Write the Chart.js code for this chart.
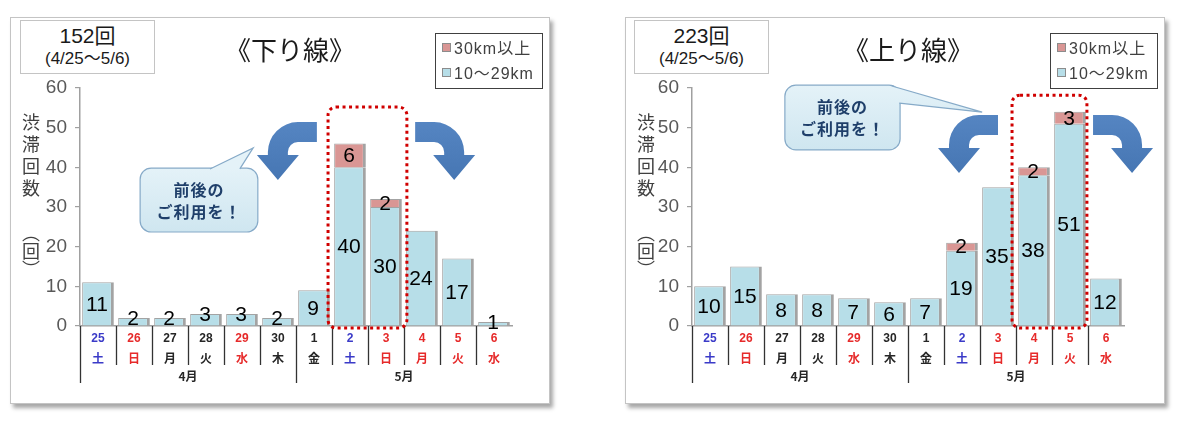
<!DOCTYPE html>
<html lang="ja">
<head>
<meta charset="utf-8">
<script src="https://cdn.jsdelivr.net/npm/chart.js@4.4.1/dist/chart.umd.min.js"></script>
<style>
  body { margin: 0; width: 1190px; height: 427px; background: #fff; position: relative; overflow: hidden;
         font-family: "Noto Sans CJK JP", sans-serif; }
  .panel { position: absolute; top: 17px; width: 540px; height: 387px; box-sizing: border-box;
           border: 1px solid #c4c4c4; background: #fff; box-shadow: 3px 4px 4px rgba(0,0,0,0.35); }
  .panel canvas { position: absolute; left: 0; top: 0; }
  .total { position: absolute; top: 2px; width: 135px; height: 54px; box-sizing: border-box;
           border: 1px solid #c4c4c4; text-align: center; color: #1a1a1a; background: #fff; }
  .total .n { font: 21px "Liberation Sans", "Noto Sans CJK JP", sans-serif; line-height: 22px; margin-top: 4px; }
  .total .p { font: 17px "Liberation Sans", "Noto Sans CJK JP", sans-serif; line-height: 20px; margin-top: 2px; }
  .title { position: absolute; top: 14px; width: 200px; text-align: center; font-size: 26px; line-height: 34px; color: #1a1a1a; }
  .legend { position: absolute; left: 424px; top: 15px; width: 108px; height: 56px; box-sizing: border-box;
            border: 1.5px solid #404040; background: #fff; padding: 3px 0 0 6px; }
  .legend .row { font: 16px "Liberation Sans", "Noto Sans CJK JP", sans-serif; letter-spacing: 1px; color: #404040;
                 line-height: 24px; height: 25px; white-space: nowrap; }
  .legend .sw { display: inline-block; width: 7px; height: 7px; margin-right: 3px; vertical-align: 2px;
                border: 1px solid #8c8c8c; }
  .ytitle { position: absolute; writing-mode: vertical-rl; font-size: 18px; color: #404040; }
</style>
</head>
<body>
<div class="panel" id="pDown" style="left:10px">
  <canvas id="cDown" width="538" height="385"></canvas>
  <div class="total" style="left:9px"><div class="n" id="tDown"></div><div class="p" id="rDown"></div></div>
  <div class="title" style="left:179px">《下り線》</div>
  <div class="legend" id="lDown"></div>
  <div class="ytitle" style="left:7px; top:95px; letter-spacing:4px">渋滞回数</div>
  <div class="ytitle" style="left:7px; top:206px">（回）</div>
</div>
<div class="panel" id="pUp" style="left:625px">
  <canvas id="cUp" width="538" height="385"></canvas>
  <div class="total" style="left:8px"><div class="n" id="tUp"></div><div class="p" id="rUp"></div></div>
  <div class="title" style="left:182px">《上り線》</div>
  <div class="legend" id="lUp"></div>
  <div class="ytitle" style="left:7px; top:95px; letter-spacing:4px">渋滞回数</div>
  <div class="ytitle" style="left:7px; top:206px">（回）</div>
</div>
<script>
// calendar
const days = ['25', '26', '27', '28', '29', '30', '1', '2', '3', '4', '5', '6'];
const weekdays = ['土', '日', '月', '火', '水', '木', '金', '土', '日', '月', '火', '水'];
const dayTypes = ['sat', 'sun', '', '', 'hol', '', '', 'sat', 'sun', 'hol', 'hol', 'hol'];
const monthLabels = ['4月', '5月'];
const monthStart = [0, 6];
const period = '(4/25～5/6)';

// series
const seriesNames = ['10～29km', '30km以上'];
const downShort = [11, 2, 2, 3, 3, 2, 9, 40, 30, 24, 17, 1];
const downLong = [0, 0, 0, 0, 0, 0, 0, 6, 2, 0, 0, 0];
const upShort = [10, 15, 8, 8, 7, 6, 7, 19, 35, 38, 51, 12];
const upLong = [0, 0, 0, 0, 0, 0, 0, 2, 0, 2, 3, 0];
const yMax = 60, yStep = 10;

const blueFill = '#b7dee8';
const redFill = '#d99694';
const barEdge = '#a3a3a3';
const dayColor = { sat: '#3b3bc8', sun: '#e62a2a', hol: '#e62a2a', '': '#262626' };

function sum(a) { return a.reduce((s, v) => s + v, 0); }

const decorPlugin = {
  id: 'decor',
  afterDatasetsDraw(chart) {
    const ctx = chart.ctx;
    ctx.save();
    ctx.font = '21px "Liberation Sans", sans-serif';
    ctx.fillStyle = '#000';
    ctx.textAlign = 'center';
    ctx.textBaseline = 'middle';
    chart.data.datasets.forEach((ds, di) => {
      const meta = chart.getDatasetMeta(di);
      ds.data.forEach((v, i) => {
        if (!v) return;
        const bar = meta.data[i];
        const h = bar.base - bar.y;
        let cy = (bar.y + bar.base) / 2;
        if (di === 0 && h < 18) cy = bar.y;   // tiny bars: label sits on the top edge
        ctx.fillText(String(v), bar.x - 1, cy + 1);
      });
    });
    ctx.restore();
  },
  afterDraw(chart, args, o) {
    const ctx = chart.ctx;
    const xs = chart.scales.x, ys = chart.scales.y;
    const X = v => xs.getPixelForValue(v), Y = v => ys.getPixelForValue(v);
    const b = chart.chartArea.bottom;
    ctx.save();

    // category labels under the axis
    ctx.textAlign = 'center';
    ctx.textBaseline = 'middle';
    days.forEach((d, i) => {
      ctx.fillStyle = dayColor[dayTypes[i]];
      ctx.font = 'bold 12px "Liberation Sans", sans-serif';
      ctx.fillText(d, X(i), b + 13);
      ctx.font = 'bold 12px "Noto Sans CJK JP", sans-serif';
      ctx.fillText(weekdays[i], X(i), b + 32);
    });
    ctx.strokeStyle = '#333';
    ctx.lineWidth = 1.3;
    days.forEach((d, i) => {
      const x = Math.round(X(i - 0.5)) + 0.5;
      const long = monthStart.includes(i);
      ctx.beginPath();
      ctx.moveTo(x, b);
      ctx.lineTo(x, b + (long ? 57 : 39));
      ctx.stroke();
    });
    ctx.fillStyle = '#262626';
    ctx.font = 'bold 12px "Noto Sans CJK JP", sans-serif';
    monthLabels.forEach((m, k) => {
      const from = monthStart[k];
      const to = k + 1 < monthStart.length ? monthStart[k + 1] - 1 : days.length - 1;
      ctx.fillText(m, (X(from - 0.5) + X(to + 0.5)) / 2, b + 50);
    });

    // dotted highlight
    const hb = o.highlight;
    ctx.strokeStyle = '#d00000';
    ctx.lineWidth = 3;
    ctx.setLineDash([3, 3.5]);
    ctx.beginPath();
    ctx.roundRect(X(hb[0]), Y(hb[2]), X(hb[1]) - X(hb[0]), Y(-0.5) - Y(hb[2]), 8);
    ctx.stroke();
    ctx.setLineDash([]);

    // curved arrows
    const drawArrow = (ex, top, mirror) => {
      ctx.save();
      ctx.translate(ex, top);
      if (mirror) ctx.scale(-1, 1);
      ctx.beginPath();
      ctx.moveTo(0, 0);
      ctx.lineTo(-19, 0);
      ctx.arc(-19, 30, 30, -Math.PI / 2, Math.PI, true);
      ctx.lineTo(-49, 33);
      ctx.lineTo(-60, 33);
      ctx.lineTo(-39, 58);
      ctx.lineTo(-18, 33);
      ctx.lineTo(-29, 33);
      ctx.lineTo(-29, 30);
      ctx.arc(-19, 30, 10, Math.PI, -Math.PI / 2, false);
      ctx.lineTo(0, 20);
      ctx.closePath();
      const g = ctx.createLinearGradient(0, 0, 0, 58);
      g.addColorStop(0, '#5585c2');
      g.addColorStop(1, '#4676b3');
      ctx.fillStyle = g;
      ctx.fill();
      ctx.restore();
    };
    drawArrow(X(o.arrows[0]), Y(o.arrows[2]), false);
    drawArrow(X(o.arrows[1]), Y(o.arrows[2]), true);

    // callout bubble
    const c = o.callout;
    const x0 = X(c.box[0]), x1 = X(c.box[1]), y0 = Y(c.box[2]), y1 = Y(c.box[3]);
    const g = ctx.createLinearGradient(0, y0, 0, y1);
    g.addColorStop(0, '#e4f2f8');
    g.addColorStop(1, '#cfe6f0');
    ctx.fillStyle = g;
    ctx.strokeStyle = '#86aac8';
    ctx.lineWidth = 1.2;
    ctx.beginPath();
    ctx.roundRect(x0, y0, x1 - x0, y1 - y0, 11);
    ctx.fill();
    ctx.stroke();
    const p = c.wedge.map(q => [X(q[0]), Y(q[1])]);
    ctx.beginPath();
    ctx.moveTo(p[0][0], p[0][1]);
    ctx.lineTo(p[1][0], p[1][1]);
    ctx.lineTo(p[2][0], p[2][1]);
    ctx.closePath();
    ctx.fill();
    ctx.beginPath();
    ctx.moveTo(p[0][0], p[0][1]);
    ctx.lineTo(p[1][0], p[1][1]);
    ctx.lineTo(p[2][0], p[2][1]);
    ctx.stroke();
    ctx.fillStyle = '#1f3f6a';
    ctx.font = 'bold 16px "Noto Sans CJK JP", sans-serif';
    ctx.letterSpacing = '1px';
    ctx.fillText('前後の', (x0 + x1) / 2, y0 + 22);
    ctx.fillText('ご利用を！', (x0 + x1) / 2, y0 + 44);
    ctx.restore();
  }
};

function makeChart(id, shortData, longData, deco) {
  const canvas = document.getElementById(id);
  const W = canvas.width, H = canvas.height;
  const edge = { left: 1, top: 1, right: 3, bottom: 0 };
  return new Chart(canvas, {
    type: 'bar',
    data: {
      labels: days,
      datasets: [
        { label: seriesNames[0], data: shortData, backgroundColor: blueFill, borderColor: barEdge,
          borderWidth: edge, barPercentage: 0.88, categoryPercentage: 1 },
        { label: seriesNames[1], data: longData, backgroundColor: redFill, borderColor: barEdge,
          borderWidth: edge, barPercentage: 0.88, categoryPercentage: 1 }
      ]
    },
    options: {
      responsive: false,
      animation: false,
      events: [],
      layout: { padding: { top: 70, right: W - deco.plotRight, left: 0, bottom: 0 } },
      plugins: { legend: { display: false }, tooltip: { enabled: false }, decor: deco },
      scales: {
        x: {
          stacked: true,
          grid: { display: true, drawOnChartArea: false, drawTicks: false },
          ticks: { display: false },
          border: { color: '#a0a0a0', width: 1.5 },
          afterFit: s => { s.height = H - 308; }
        },
        y: {
          stacked: true, min: 0, max: yMax,
          ticks: { stepSize: yStep, color: '#595959', padding: 8,
                   font: { family: '"Liberation Sans", sans-serif', size: 19 } },
          grid: { drawOnChartArea: false, tickLength: 5, color: '#a0a0a0', lineWidth: 1.2 },
          border: { color: '#a0a0a0', width: 1.5 },
          afterFit: s => { s.width = deco.plotLeft; }
        }
      }
    },
    plugins: [decorPlugin]
  });
}

function fillBoxes(suffix, shortData, longData) {
  document.getElementById('t' + suffix).textContent = (sum(shortData) + sum(longData)) + '回';
  document.getElementById('r' + suffix).textContent = period;
  const lg = document.getElementById('l' + suffix);
  [[seriesNames[1], redFill], [seriesNames[0], blueFill]].forEach(([name, col]) => {
    const row = document.createElement('div');
    row.className = 'row';
    const sw = document.createElement('span');
    sw.className = 'sw';
    sw.style.background = col;
    row.appendChild(sw);
    row.appendChild(document.createTextNode(name));
    lg.appendChild(row);
  });
}

fillBoxes('Down', downShort, downLong);
fillBoxes('Up', upShort, upLong);

makeChart('cDown', downShort, downLong, {
  plotLeft: 69, plotRight: 501,
  highlight: [6.39, 8.58, 55.2],
  arrows: [6.08, 8.81, 51.4],
  callout: { box: [1.17, 4.44, 39.8, 23.7], wedge: [[3.11, 39.6], [4.31, 44.9], [3.94, 39.6]] }
});
makeChart('cUp', upShort, upLong, {
  plotLeft: 66, plotRight: 498,
  highlight: [8.39, 10.47, 58.2],
  arrows: [8.0, 10.64, 53.2],
  callout: { box: [2.08, 5.28, 60.7, 44.4], wedge: [[5.05, 60.5], [7.56, 53.9], [5.26, 56.2]] }
});
</script>
</body>
</html>
